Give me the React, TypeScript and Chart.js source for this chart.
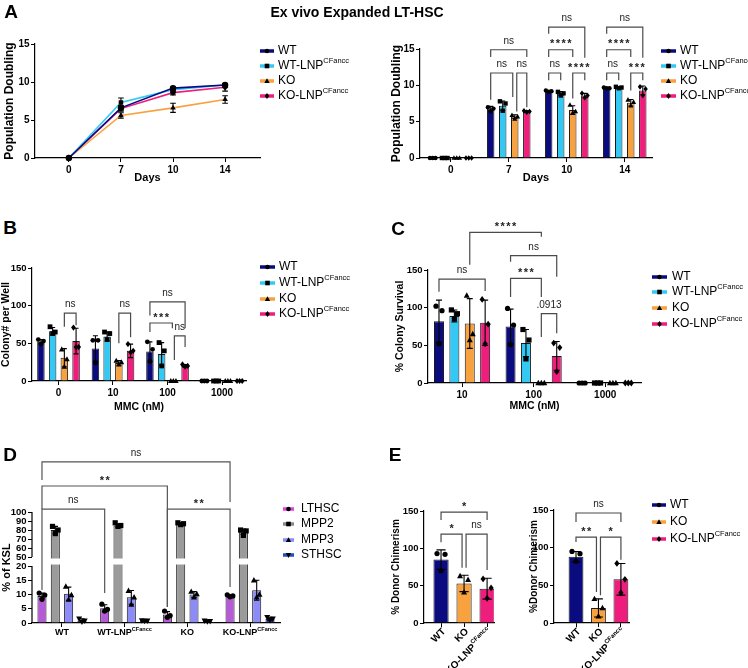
import React, { useEffect, useRef } from 'react';
import { Chart, registerables } from 'chart.js';

Chart.register(...registerables);

const FONT = "'Liberation Sans', Arial, Helvetica, sans-serif";
Chart.defaults.font.family = FONT;
Chart.defaults.color = '#000';

// ---------------- shared groups ----------------
const GENOTYPES = ['WT', 'WT-LNP', 'KO', 'KO-LNP'];
const GENOTYPE_SUPS = ['', 'CFancc', '', 'CFancc'];
const GENOTYPE_COLORS = ['#0b0b80', '#34c8f5', '#f8a13f', '#ef1d7c'];
const GENOTYPE_MARKERS = ['circle', 'square', 'triangle', 'diamond'];

// ---------------- A : population doubling ----------------
const DAYS = ['0', '7', '10', '14'];
const A_LINE_WT = [0, 6.6, 9.2, 9.6];
const A_LINE_WTLNP = [0, 7.3, 9.0, 9.6];
const A_LINE_KO = [0, 5.6, 6.6, 7.7];
const A_LINE_KOLNP = [0, 6.5, 8.6, 9.3];
const A_LINE_SD_WT = [0, 0.3, 0.15, 0.15];
const A_LINE_SD_WTLNP = [0, 0.6, 0.25, 0.2];
const A_LINE_SD_KO = [0, 0.35, 0.6, 0.5];
const A_LINE_SD_KOLNP = [0, 0.35, 0.3, 0.5];

const A_BAR_WT = [0, 6.8, 9.2, 9.6];
const A_BAR_WTLNP = [0, 7.2, 8.9, 9.7];
const A_BAR_KO = [0, 5.7, 6.6, 7.6];
const A_BAR_KOLNP = [0, 6.4, 8.6, 9.3];
const A_BAR_SD_WT = [0, 0.3, 0.1, 0.1];
const A_BAR_SD_WTLNP = [0, 0.65, 0.25, 0.1];
const A_BAR_SD_KO = [0, 0.25, 0.6, 0.45];
const A_BAR_SD_KOLNP = [0, 0.1, 0.3, 0.6];
const A_DOTS_WT = [[0, 0, 0], [7.0, 6.8, 6.4], [9.3, 9.2, 9.1], [9.7, 9.6, 9.6]];
const A_DOTS_WTLNP = [[0, 0, 0], [7.8, 7.5, 6.5], [9.1, 8.9, 8.6], [9.8, 9.7, 9.6]];
const A_DOTS_KO = [[0, 0, 0], [5.9, 5.7, 5.4], [7.3, 6.4, 6.2], [8.0, 7.7, 7.2]];
const A_DOTS_KOLNP = [[0, 0, 0], [6.5, 6.4, 6.3], [8.9, 8.6, 8.3], [9.8, 9.5, 8.6]];
// brackets: a/b = [group, series], y = bar level, la/lb = leg ends (data units)
const A_BRACKETS = [
  { a: [1, 0], b: [1, 3], y: 14.9, la: 13.9, lb: 13.9, t: 'ns' },
  { a: [1, 0], b: [1, 2], y: 11.7, la: 8.0, lb: 8.4, t: 'ns', dxb: -2 },
  { a: [1, 2], b: [1, 3], y: 11.7, la: 6.4, lb: 7.0, t: 'ns', dxa: 2 },
  { a: [2, 0], b: [2, 3], y: 18.0, la: 17.1, lb: 13.8, t: 'ns' },
  { a: [2, 0], b: [2, 2], y: 14.9, la: 13.9, lb: 13.9, t: '****' },
  { a: [2, 0], b: [2, 1], y: 11.7, la: 10.7, lb: 10.7, t: 'ns' },
  { a: [2, 2], b: [2, 3], y: 11.7, la: 8.2, lb: 10.7, t: '****' },
  { a: [3, 0], b: [3, 3], y: 18.0, la: 17.1, lb: 13.8, t: 'ns' },
  { a: [3, 0], b: [3, 2], y: 14.9, la: 13.9, lb: 13.9, t: '****' },
  { a: [3, 0], b: [3, 1], y: 11.7, la: 10.7, lb: 10.7, t: 'ns' },
  { a: [3, 2], b: [3, 3], y: 11.7, la: 9.3, lb: 10.7, t: '***' },
];

// ---------------- B : colonies per well ----------------
const MMC_B = ['0', '10', '100', '1000'];
const B_WT = [52, 43, 39, 0];
const B_WTLNP = [66, 59, 36, 0];
const B_KO = [31, 24, 0, 0];
const B_KOLNP = [53, 40, 20, 0];
const B_SD_WT = [3, 17, 13, 0];
const B_SD_WTLNP = [5, 6, 15, 0];
const B_SD_KO = [12, 3, 0, 0];
const B_SD_KOLNP = [17, 9, 2, 0];
const B_DOTS_WT = [[55, 53, 49], [54, 54, 24], [52, 42, 26], [0, 0, 0]];
const B_DOTS_WTLNP = [[72, 65, 63], [65, 63, 55], [51, 40, 20], [0, 0, 0]];
const B_DOTS_KO = [[42, 29, 19], [27, 25, 22], [0, 0, 0], [0, 0, 0]];
const B_DOTS_KOLNP = [[71, 45, 45], [49, 40, 38], [22, 20, 19], [0, 0, 0]];
const B_BRACKETS = [
  { a: [0, 2], b: [0, 3], y: 90, la: 72, lb: 74, t: 'ns' },
  { a: [1, 2], b: [1, 3], y: 90, la: 50, lb: 58, t: 'ns' },
  { a: [2, 0], b: [2, 3], y: 105, la: 87, lb: 70, t: 'ns' },
  { a: [2, 0], b: [2, 2], y: 77, la: 65, lb: 70, t: '***', dxb: -1 },
  { a: [2, 2], b: [2, 3], y: 60, la: 28, lb: 45, t: 'ns', dxa: 1 },
];

// ---------------- C : % colony survival ----------------
const MMC_C = ['10', '100', '1000'];
const C_WT = [82, 75, 0];
const C_WTLNP = [89, 53, 0];
const C_KO = [79, 0, 0];
const C_KOLNP = [80, 36, 0];
const C_SD_WT = [28, 23, 0];
const C_SD_WTLNP = [8, 18, 0];
const C_SD_KO = [33, 0, 0];
const C_SD_KOLNP = [30, 19, 0];
const C_DOTS_WT = [[102, 96, 52], [99, 77, 51], [0, 0, 0]];
const C_DOTS_WTLNP = [[97, 92, 85], [71, 57, 32], [0, 0, 0]];
const C_DOTS_KO = [[116, 65, 57], [0, 0, 0], [0, 0, 0]];
const C_DOTS_KOLNP = [[111, 78, 52], [53, 47, 15], [0, 0, 0]];
const C_BRACKETS = [
  { a: [0, 0], b: [0, 3], y: 138, la: 121, lb: 122, t: 'ns' },
  { a: [0, 2], b: [1, 2], y: 200, la: 157, lb: 194, t: '****' },
  { a: [1, 0], b: [1, 3], y: 169, la: 161, lb: 141, t: 'ns' },
  { a: [1, 0], b: [1, 2], y: 139, la: 114, lb: 114, t: '***' },
  { a: [1, 2], b: [1, 3], y: 92, la: 61, lb: 66, t: '.0913' },
];

// ---------------- D : % of KSL ----------------
const D_GROUPS = ['WT', 'WT-LNP', 'KO', 'KO-LNP'];
const D_GROUP_SUPS = ['', 'CFancc', '', 'CFancc'];
const D_POPS = ['LTHSC', 'MPP2', 'MPP3', 'STHSC'];
const D_BAR_COLORS = ['#b65ad8', '#9b9b9b', '#8d8cf7', '#203f9f'];
const D_LEGEND_COLORS = ['#e43fe4', '#8a8a8a', '#8a8aff', '#2050c0'];
const D_MARKERS = ['circle', 'square', 'triangle', 'invtriangle'];
const D_LTHSC = [9.5, 5.2, 3.0, 9.5];
const D_MPP2 = [80, 85, 86.5, 78];
const D_MPP3 = [10.3, 9.0, 10.0, 11.5];
const D_STHSC = [0.9, 0.8, 0.6, 1.5];
const D_SD_LTHSC = [1.0, 1.2, 1.0, 0.4];
const D_SD_MPP2 = [4, 2, 1.5, 3];
const D_SD_MPP3 = [2.3, 2.4, 1.0, 3.5];
const D_SD_STHSC = [0.6, 0.2, 0.2, 0.5];
const D_DOTS_LTHSC = [[10.5, 9.8, 8.3], [6.6, 4.8, 4.2], [4.2, 2.6, 2.0], [9.9, 9.5, 9.2]];
const D_DOTS_MPP2 = [[84, 80, 76], [88, 85, 84], [88, 87, 86], [80, 79, 74]];
const D_DOTS_MPP3 = [[12.8, 9.8, 8.2], [11.3, 9.0, 6.5], [11.0, 10.2, 9.0], [15.0, 10.0, 9.0]];
const D_DOTS_STHSC = [[1.5, 0.8, 0.4], [0.9, 0.8, 0.7], [0.8, 0.6, 0.5], [2.0, 1.5, 1.0]];
const D_TICKS = [0, 5, 10, 15, 20, 50, 60, 70, 80, 90, 100];
const D_BREAK_LOW = 20;
const D_BREAK_HIGH = 50;
const D_BRACKETS = [
  { a: [0, 0], b: [1, 0], y: 103.3, la: 11.6, lb: 10.5, t: 'ns' },
  { a: [0, 0], b: [2, 0], y: 128.9, la: 103.3, lb: 5.6, t: '**' },
  { a: [2, 0], b: [3, 0], y: 103.3, la: 5.6, lb: 12.6, t: '**' },
  { a: [0, 0], b: [3, 0], y: 155.6, la: 135.6, lb: 111.2, t: 'ns' },
];

// ---------------- E : donor chimerism ----------------
const E_GROUPS = ['WT', 'KO', 'KO-LNP'];
const E_GROUP_SUPS = ['', '', 'CFancc'];
const E_COLORS = ['#0b0b80', '#f8a13f', '#ef1d7c'];
const E_MARKERS = ['circle', 'triangle', 'diamond'];
const E1_MEANS = [85, 53, 46];
const E1_SD = [13, 11, 14];
const E1_DOTS = [[93, 92, 70], [63, 58, 41], [59, 47, 33]];
const E2_MEANS = [88, 20, 58];
const E2_SD = [7, 12, 21];
const E2_DOTS = [[95, 92, 82], [32, 20, 9], [79, 58, 40]];
const E1_BRACKETS = [
  { a: [0, 0], b: [2, 0], y: 148.6, la: 138, lb: 138, t: '*' },
  { a: [0, 0], b: [1, 0], y: 119, la: 108, lb: 74, t: '*', dxb: -2 },
  { a: [1, 0], b: [2, 0], y: 119, la: 74, lb: 71, t: 'ns', dxa: 2 },
];
const E2_BRACKETS = [
  { a: [0, 0], b: [2, 0], y: 146, la: 134, lb: 134, t: 'ns' },
  { a: [0, 0], b: [1, 0], y: 114, la: 107.5, lb: 41, t: '**', dxb: -2 },
  { a: [1, 0], b: [2, 0], y: 114, la: 37, lb: 84, t: '*', dxa: 2 },
];

// ================= helpers =================
type Box = { x: number; y: number; w: number; h: number };
type Area = { l: number; t: number; r: number; b: number };

function dMap(v: number) {
  const k = 0.316;
  const gap = 3.16;
  return v <= D_BREAK_LOW ? v : D_BREAK_LOW + gap + (v - D_BREAK_HIGH) * k;
}
const ident = (v: number) => v;

function frame(box: Box, ca: Area, yTitleX: number, yTitleSize: number, xTitleY?: number, xTitleSize?: number) {
  const yLeft = Math.max(box.x, yTitleX - yTitleSize * 0.6);
  const xBottom = xTitleY !== undefined ? xTitleY + (xTitleSize as number) * 0.6 : ca.b + 20;
  return {
    padding: { left: yLeft - box.x, top: ca.t - box.y, right: box.x + box.w - ca.r, bottom: box.y + box.h - xBottom },
    yWidth: ca.l - yLeft,
    xHeight: xBottom - ca.b,
  };
}

const axisLook = () => ({
  grid: { drawOnChartArea: false, drawTicks: true, tickLength: 4, color: '#000', lineWidth: 1, offset: false },
  border: { display: true, color: '#000', width: 1.2 },
});

function yScale(p: any) {
  const s: any = {
    type: 'linear', position: 'left', min: p.min, max: p.max,
    ticks: { stepSize: p.step, font: { size: p.tickSize ?? 10, weight: 'bold' }, color: '#000', padding: 1.5, autoSkip: false },
    ...axisLook(),
    title: { display: true, text: p.title, font: { size: p.titleSize, weight: 'bold' }, color: '#000', padding: 0 },
    afterFit: (sc: any) => { sc.width = p.width; },
  };
  if (p.tickValues) {
    s.afterBuildTicks = (sc: any) => { sc.ticks = p.tickValues.map((v: number) => ({ value: v })); };
    s.ticks.callback = (_v: any, i: number) => String(p.tickLabels[i]);
  }
  return s;
}

function xScale(p: any) {
  return {
    type: 'linear', position: 'bottom', min: p.min, max: p.max, offset: false,
    afterBuildTicks: (sc: any) => { sc.ticks = p.labels.map((_: any, i: number) => ({ value: i })); },
    ticks: {
      callback: (v: any) => (p.showLabels ? (p.labels[v] ?? '') : ''),
      font: { size: p.tickSize ?? 10, weight: 'bold' }, color: '#000', padding: 2,
      autoSkip: false, maxRotation: 0, minRotation: 0,
    },
    ...axisLook(),
    title: { display: !!p.title, text: p.title ?? '', font: { size: p.titleSize ?? 11, weight: 'bold' }, color: '#000', padding: 0 },
    afterFit: (sc: any) => { sc.height = p.height; },
  };
}

function drawMarker(ctx: CanvasRenderingContext2D, style: string, x: number, y: number, r: number, fill = '#000') {
  ctx.save();
  ctx.fillStyle = fill;
  ctx.beginPath();
  if (style === 'circle') ctx.arc(x, y, r, 0, Math.PI * 2);
  else if (style === 'square') ctx.rect(x - r, y - r, 2 * r, 2 * r);
  else if (style === 'triangle') { ctx.moveTo(x, y - r * 1.25); ctx.lineTo(x + r * 1.15, y + r * 0.85); ctx.lineTo(x - r * 1.15, y + r * 0.85); ctx.closePath(); }
  else if (style === 'invtriangle') { ctx.moveTo(x, y + r * 1.25); ctx.lineTo(x + r * 1.15, y - r * 0.85); ctx.lineTo(x - r * 1.15, y - r * 0.85); ctx.closePath(); }
  else { ctx.moveTo(x, y - r * 1.3); ctx.lineTo(x + r, y); ctx.lineTo(x, y + r * 1.3); ctx.lineTo(x - r, y); ctx.closePath(); }
  ctx.fill();
  ctx.restore();
}

function drawRich(ctx: CanvasRenderingContext2D, x: number, y: number, main: string, sup: string, size: number, weight: string, align: string, color = '#000') {
  const supSize = size * 0.62;
  ctx.font = `${weight} ${size}px ${FONT}`;
  const w1 = ctx.measureText(main).width;
  let w2 = 0;
  if (sup) { ctx.font = `${weight} ${supSize}px ${FONT}`; w2 = ctx.measureText(sup).width; }
  const total = w1 + w2;
  const sx = align === 'left' ? x : align === 'center' ? x - total / 2 : x - total;
  ctx.fillStyle = color;
  ctx.textAlign = 'left';
  ctx.textBaseline = 'middle';
  ctx.font = `${weight} ${size}px ${FONT}`;
  ctx.fillText(main, sx, y);
  if (sup) { ctx.font = `${weight} ${supSize}px ${FONT}`; ctx.fillText(sup, sx + w1, y - size * 0.38); }
}

function drawLegend(chart: any, box: Box, items: any[], x0: number, x1: number, tx: number, ys: number[], size = 12) {
  const ctx = chart.ctx as CanvasRenderingContext2D;
  ctx.save();
  ctx.translate(-box.x, -box.y);
  items.forEach((it, i) => {
    const y = ys[i];
    ctx.strokeStyle = it.color;
    ctx.lineWidth = 3.5;
    ctx.beginPath(); ctx.moveTo(x0, y); ctx.lineTo(x1, y); ctx.stroke();
    drawMarker(ctx, it.marker, (x0 + x1) / 2, y, 2.3);
    drawRich(ctx, tx, y, it.main, it.sup, size, 'normal', 'left');
  });
  ctx.restore();
}

function drawErrDots(chart: any, series: any[], yMap: (v: number) => number, r: number, offsets: number[], capFixed?: number) {
  const ctx = chart.ctx as CanvasRenderingContext2D;
  const ys = chart.scales.y;
  ctx.save();
  series.forEach((s, di) => {
    const meta = chart.getDatasetMeta(di);
    s.means.forEach((m: number, i: number) => {
      const el: any = meta.data[i];
      const x = el.x;
      const w = el.width ?? 8;
      const sd = s.sds[i];
      if (sd > 0) {
        const yt = ys.getPixelForValue(yMap(m + sd));
        const yb = ys.getPixelForValue(yMap(Math.max(0, m - sd)));
        const cap = capFixed ?? Math.max(2.5, w * 0.3);
        ctx.strokeStyle = '#000';
        ctx.lineWidth = 1.1;
        ctx.beginPath();
        ctx.moveTo(x, yt); ctx.lineTo(x, yb);
        ctx.moveTo(x - cap, yt); ctx.lineTo(x + cap, yt);
        ctx.moveTo(x - cap, yb); ctx.lineTo(x + cap, yb);
        ctx.stroke();
      }
      if (s.dots) {
        const mk = Array.isArray(s.marker) ? s.marker[i] : s.marker;
        s.dots[i].forEach((v: number, k: number) => drawMarker(ctx, mk, x + offsets[k], ys.getPixelForValue(yMap(v)), r));
      }
    });
  });
  ctx.restore();
}

function drawBrackets(chart: any, list: any[], yMap: (v: number) => number, color = '#4a4a4a') {
  const ctx = chart.ctx as CanvasRenderingContext2D;
  const ys = chart.scales.y;
  ctx.save();
  list.forEach((br) => {
    const xa = (chart.getDatasetMeta(br.a[1]).data[br.a[0]] as any).x + (br.dxa || 0);
    const xb = (chart.getDatasetMeta(br.b[1]).data[br.b[0]] as any).x + (br.dxb || 0);
    const y = ys.getPixelForValue(yMap(br.y));
    const ya = ys.getPixelForValue(yMap(br.la));
    const yb = ys.getPixelForValue(yMap(br.lb));
    ctx.strokeStyle = color;
    ctx.lineWidth = 1.2;
    ctx.lineJoin = 'miter';
    ctx.beginPath();
    ctx.moveTo(xa, ya); ctx.lineTo(xa, y); ctx.lineTo(xb, y); ctx.lineTo(xb, yb);
    ctx.stroke();
    const stars = /^\*+$/.test(br.t);
    ctx.fillStyle = '#222';
    ctx.textAlign = 'center';
    ctx.textBaseline = 'middle';
    if (stars) {
      ctx.font = `bold 11px ${FONT}`;
      (ctx as any).letterSpacing = '1.5px';
      ctx.fillText(br.t, (xa + xb) / 2 + 0.75, y - 5.5);
      (ctx as any).letterSpacing = '0px';
    } else {
      ctx.font = `10px ${FONT}`;
      ctx.fillText(br.t, (xa + xb) / 2, y - 8.5);
    }
  });
  ctx.restore();
}

const genotypeLegend = () => GENOTYPES.map((g, i) => ({ color: GENOTYPE_COLORS[i], marker: GENOTYPE_MARKERS[i], main: g, sup: GENOTYPE_SUPS[i] }));

function barDatasets(values: number[][], colors: string[], cat: number, bar: number, yMap = ident) {
  return values.map((vals, i) => ({
    type: 'bar',
    data: vals.map((v, k) => ({ x: k, y: yMap(v) })),
    backgroundColor: colors[i],
    borderColor: '#1a1a1a',
    borderWidth: 1,
    categoryPercentage: cat,
    barPercentage: bar,
  }));
}

const baseOptions = (padding: any, scales: any) => ({
  responsive: false,
  animation: false,
  events: [],
  layout: { padding },
  plugins: { legend: { display: false }, tooltip: { enabled: false } },
  scales,
});

// ================= chart configs =================
const BOX_A1: Box = { x: 0, y: 20, w: 372, h: 175 };
function makeA1() {
  const fr = frame(BOX_A1, { l: 35, t: 44, r: 260, b: 158 }, 10, 12, 178, 11);
  const lines = [A_LINE_WT, A_LINE_WTLNP, A_LINE_KO, A_LINE_KOLNP];
  const sds = [A_LINE_SD_WT, A_LINE_SD_WTLNP, A_LINE_SD_KO, A_LINE_SD_KOLNP];
  const styles = ['circle', 'rect', 'triangle', 'rectRot'];
  const series = lines.map((m, i) => ({ means: m, sds: sds[i] }));
  return {
    type: 'line',
    data: {
      datasets: lines.map((vals, i) => ({
        data: vals.map((v, k) => ({ x: k, y: v })),
        borderColor: GENOTYPE_COLORS[i], borderWidth: 1.6, tension: 0, clip: false,
        pointStyle: styles[i], pointRadius: 3.2, pointBackgroundColor: '#000', pointBorderColor: '#000', pointBorderWidth: 0,
      })),
    },
    options: baseOptions(fr.padding, {
      x: xScale({ min: -0.65, max: 3.67, labels: DAYS, showLabels: true, title: 'Days', titleSize: 11, height: fr.xHeight }),
      y: yScale({ min: 0, max: 15, step: 5, title: 'Population Doubling', titleSize: 12, width: fr.yWidth }),
    }),
    plugins: [{
      id: 'a1',
      afterDatasetsDraw: (c: any) => drawErrDots(c, series, ident, 0, [], 2.8),
      afterDraw: (c: any) => drawLegend(c, BOX_A1, genotypeLegend(), 260, 274, 278, [51, 66, 81, 96]),
    }],
  };
}

const BOX_A2: Box = { x: 374, y: 0, w: 374, h: 195 };
function makeA2() {
  const fr = frame(BOX_A2, { l: 420, t: 49, r: 652, b: 158 }, 397, 12, 178, 11);
  const vals = [A_BAR_WT, A_BAR_WTLNP, A_BAR_KO, A_BAR_KOLNP];
  const sds = [A_BAR_SD_WT, A_BAR_SD_WTLNP, A_BAR_SD_KO, A_BAR_SD_KOLNP];
  const dots = [A_DOTS_WT, A_DOTS_WTLNP, A_DOTS_KO, A_DOTS_KOLNP];
  const series = vals.map((m, i) => ({ means: m, sds: sds[i], dots: dots[i], marker: GENOTYPE_MARKERS[i] }));
  return {
    type: 'bar',
    data: { datasets: barDatasets(vals, GENOTYPE_COLORS, 0.83, 0.62) },
    options: baseOptions(fr.padding, {
      x: xScale({ min: -0.53, max: 3.47, labels: DAYS, showLabels: true, title: 'Days', titleSize: 11, height: fr.xHeight }),
      y: yScale({ min: 0, max: 15, step: 5, title: 'Population Doubling', titleSize: 12, width: fr.yWidth }),
    }),
    plugins: [{
      id: 'a2',
      afterDatasetsDraw: (c: any) => drawErrDots(c, series, ident, 2.2, [-2.8, 2.8, 0]),
      afterDraw: (c: any) => {
        drawBrackets(c, A_BRACKETS, ident);
        drawLegend(c, BOX_A2, genotypeLegend(), 661, 676, 680, [51, 66, 81, 96]);
      },
    }],
  };
}

const BOX_B: Box = { x: 0, y: 240, w: 372, h: 180 };
function makeB() {
  const fr = frame(BOX_B, { l: 32, t: 268, r: 246, b: 381 }, 6.5, 10.5, 407, 10.5);
  const vals = [B_WT, B_WTLNP, B_KO, B_KOLNP];
  const sds = [B_SD_WT, B_SD_WTLNP, B_SD_KO, B_SD_KOLNP];
  const dots = [B_DOTS_WT, B_DOTS_WTLNP, B_DOTS_KO, B_DOTS_KOLNP];
  const series = vals.map((m, i) => ({ means: m, sds: sds[i], dots: dots[i], marker: GENOTYPE_MARKERS[i] }));
  return {
    type: 'bar',
    data: { datasets: barDatasets(vals, GENOTYPE_COLORS, 0.86, 0.64) },
    options: baseOptions(fr.padding, {
      x: xScale({ min: -0.486, max: 3.44, labels: MMC_B, showLabels: true, title: 'MMC (nM)', titleSize: 10.5, height: fr.xHeight }),
      y: yScale({ min: 0, max: 150, step: 50, title: 'Colony# per Well', titleSize: 10.5, width: fr.yWidth, tickSize: 9.5 }),
    }),
    plugins: [{
      id: 'b',
      afterDatasetsDraw: (c: any) => drawErrDots(c, series, ident, 2.4, [-2.6, 2.6, 0]),
      afterDraw: (c: any) => {
        drawBrackets(c, B_BRACKETS, ident);
        drawLegend(c, BOX_B, genotypeLegend(), 260, 275, 279, [267, 283, 299, 314]);
      },
    }],
  };
}

const BOX_C: Box = { x: 374, y: 195, w: 374, h: 225 };
function makeC() {
  const fr = frame(BOX_C, { l: 428, t: 270, r: 641, b: 383 }, 400, 10.5, 406, 10.5);
  const vals = [C_WT, C_WTLNP, C_KO, C_KOLNP];
  const sds = [C_SD_WT, C_SD_WTLNP, C_SD_KO, C_SD_KOLNP];
  const dots = [C_DOTS_WT, C_DOTS_WTLNP, C_DOTS_KO, C_DOTS_KOLNP];
  const series = vals.map((m, i) => ({ means: m, sds: sds[i], dots: dots[i], marker: GENOTYPE_MARKERS[i] }));
  return {
    type: 'bar',
    data: { datasets: barDatasets(vals, GENOTYPE_COLORS, 0.86, 0.65) },
    options: baseOptions(fr.padding, {
      x: xScale({ min: -0.476, max: 2.5, labels: MMC_C, showLabels: true, title: 'MMC (nM)', titleSize: 10.5, height: fr.xHeight }),
      y: yScale({ min: 0, max: 150, step: 50, title: '% Colony Survival', titleSize: 10.5, width: fr.yWidth, tickSize: 9.5 }),
    }),
    plugins: [{
      id: 'c',
      afterDatasetsDraw: (c: any) => drawErrDots(c, series, ident, 2.6, [-3, 3, 0]),
      afterDraw: (c: any) => {
        drawBrackets(c, C_BRACKETS, ident);
        drawLegend(c, BOX_C, genotypeLegend(), 652, 667, 672, [277, 292, 308, 324]);
      },
    }],
  };
}

const BOX_D: Box = { x: 0, y: 440, w: 372, h: 228 };
function makeD() {
  const fr = frame(BOX_D, { l: 32, t: 512, r: 280, b: 623 }, 7, 11);
  const vals = [D_LTHSC, D_MPP2, D_MPP3, D_STHSC];
  const sds = [D_SD_LTHSC, D_SD_MPP2, D_SD_MPP3, D_SD_STHSC];
  const dots = [D_DOTS_LTHSC, D_DOTS_MPP2, D_DOTS_MPP3, D_DOTS_STHSC];
  const series = vals.map((m, i) => ({ means: m, sds: sds[i], dots: dots[i], marker: D_MARKERS[i] }));
  const yOpts = yScale({
    min: 0, max: dMap(100), title: '% of KSL', titleSize: 11, width: fr.yWidth, tickSize: 9.5,
    tickValues: D_TICKS.map(dMap), tickLabels: D_TICKS,
  });
  yOpts.border = { display: false };
  return {
    type: 'bar',
    data: { datasets: barDatasets(vals, D_BAR_COLORS, 0.85, 0.68, dMap) },
    options: baseOptions(fr.padding, {
      x: xScale({ min: -0.478, max: 3.478, labels: D_GROUPS, showLabels: false, height: fr.xHeight }),
      y: yOpts,
    }),
    plugins: [{
      id: 'd',
      afterDatasetsDraw: (c: any) => {
        const ctx = c.ctx as CanvasRenderingContext2D;
        const ys = c.scales.y;
        const yHi = ys.getPixelForValue(dMap(D_BREAK_HIGH));
        const yLo = ys.getPixelForValue(dMap(D_BREAK_LOW));
        ctx.save();
        ctx.fillStyle = '#fff';
        ctx.fillRect(c.chartArea.left + 1, yHi + 1.5, c.chartArea.right - c.chartArea.left, yLo - yHi - 3);
        ctx.restore();
        drawErrDots(c, series, dMap, 2.6, [-2.8, 2.8, 0]);
      },
      afterDraw: (c: any) => {
        const ctx = c.ctx as CanvasRenderingContext2D;
        const ys = c.scales.y;
        const x = c.chartArea.left;
        ctx.save();
        ctx.strokeStyle = '#000';
        ctx.lineWidth = 1.2;
        ctx.beginPath();
        ctx.moveTo(x, ys.getPixelForValue(0)); ctx.lineTo(x, ys.getPixelForValue(dMap(D_BREAK_LOW)));
        ctx.moveTo(x, ys.getPixelForValue(dMap(D_BREAK_HIGH))); ctx.lineTo(x, ys.getPixelForValue(dMap(100)));
        ctx.stroke();
        const xs = c.scales.x;
        D_GROUPS.forEach((g, i) => drawRich(ctx, xs.getPixelForValue(i), c.chartArea.bottom + 10, g, D_GROUP_SUPS[i], 9, 'bold', 'center'));
        ctx.restore();
        drawBrackets(c, D_BRACKETS, dMap, '#555');
        drawLegend(c, BOX_D, D_POPS.map((p, i) => ({ color: D_LEGEND_COLORS[i], marker: D_MARKERS[i], main: p, sup: '' })), 283, 294, 301, [509, 524, 540, 555]);
      },
    }],
  };
}

function makeE(box: Box, ca: Area, yTitleX: number, title: string, means: number[], sds: number[], dots: number[][], brackets: any[], xmin: number, xmax: number, legend: boolean) {
  const fr = frame(box, ca, yTitleX, 10);
  const series = [{ means, sds, dots, marker: E_MARKERS }];
  return {
    type: 'bar',
    data: {
      datasets: [{
        type: 'bar',
        data: means.map((v, k) => ({ x: k, y: v })),
        backgroundColor: E_COLORS, borderColor: '#1a1a1a', borderWidth: 1,
        categoryPercentage: 1, barPercentage: 0.66,
      }],
    },
    options: baseOptions(fr.padding, {
      x: xScale({ min: xmin, max: xmax, labels: E_GROUPS, showLabels: false, height: fr.xHeight }),
      y: yScale({ min: 0, max: 150, step: 50, title, titleSize: 10, width: fr.yWidth, tickSize: 9.5 }),
    }),
    plugins: [{
      id: 'e',
      afterDatasetsDraw: (c: any) => drawErrDots(c, series, ident, 2.6, [-4, 4, 0]),
      afterDraw: (c: any) => {
        const ctx = c.ctx as CanvasRenderingContext2D;
        const xs = c.scales.x;
        E_GROUPS.forEach((g, i) => {
          ctx.save();
          ctx.translate(xs.getPixelForValue(i) + 3, c.chartArea.bottom + 7);
          ctx.rotate(-Math.PI / 4);
          drawRich(ctx, 0, 0, g, E_GROUP_SUPS[i], 10, 'bold', 'right');
          ctx.restore();
        });
        drawBrackets(c, brackets, ident);
        if (legend) {
          drawLegend(c, box, E_GROUPS.map((g, i) => ({ color: E_COLORS[i], marker: E_MARKERS[i], main: g, sup: E_GROUP_SUPS[i] })), 652, 666, 670, [505, 522, 539]);
        }
      },
    }],
  };
}

const BOX_E1: Box = { x: 374, y: 490, w: 128, h: 178 };
const BOX_E2: Box = { x: 502, y: 490, w: 246, h: 178 };
const makeE1 = () => makeE(BOX_E1, { l: 424, t: 511, r: 494, b: 623 }, 396, '% Donor Chimerism', E1_MEANS, E1_SD, E1_DOTS, E1_BRACKETS, -0.74, 2.3, false);
const makeE2 = () => makeE(BOX_E2, { l: 554, t: 510, r: 629, b: 623 }, 534, '%Donor Chimerism', E2_MEANS, E2_SD, E2_DOTS, E2_BRACKETS, -0.98, 2.36, true);

// ================= components =================
function ChartBox({ box, make }: { box: Box; make: () => any }) {
  const ref = useRef<HTMLCanvasElement>(null);
  useEffect(() => {
    const chart = new Chart(ref.current as HTMLCanvasElement, make());
    return () => chart.destroy();
  }, []);
  return (
    <canvas
      ref={ref}
      width={box.w}
      height={box.h}
      style={{ position: 'absolute', left: box.x, top: box.y, width: box.w, height: box.h }}
    />
  );
}

function Letter({ t, x, y }: { t: string; x: number; y: number }) {
  return (
    <div style={{ position: 'absolute', left: x, top: y, transform: 'translate(-50%, -50%)', fontSize: 19, fontWeight: 'bold', lineHeight: '20px' }}>
      {t}
    </div>
  );
}

export default function App() {
  return (
    <div style={{ position: 'fixed', left: 0, top: 0, width: 748, height: 668, background: '#fff', fontFamily: FONT, overflow: 'hidden' }}>
      <ChartBox box={BOX_A1} make={makeA1} />
      <ChartBox box={BOX_A2} make={makeA2} />
      <ChartBox box={BOX_B} make={makeB} />
      <ChartBox box={BOX_C} make={makeC} />
      <ChartBox box={BOX_D} make={makeD} />
      <ChartBox box={BOX_E1} make={makeE1} />
      <ChartBox box={BOX_E2} make={makeE2} />
      <div style={{ position: 'absolute', left: 0, width: 714, top: 4, textAlign: 'center', fontWeight: 'bold', fontSize: 14, lineHeight: '16px' }}>
        Ex vivo Expanded LT-HSC
      </div>
      <Letter t="A" x={11} y={12} />
      <Letter t="B" x={10} y={228} />
      <Letter t="C" x={398} y={229} />
      <Letter t="D" x={10} y={455} />
      <Letter t="E" x={395} y={455} />
    </div>
  );
}
